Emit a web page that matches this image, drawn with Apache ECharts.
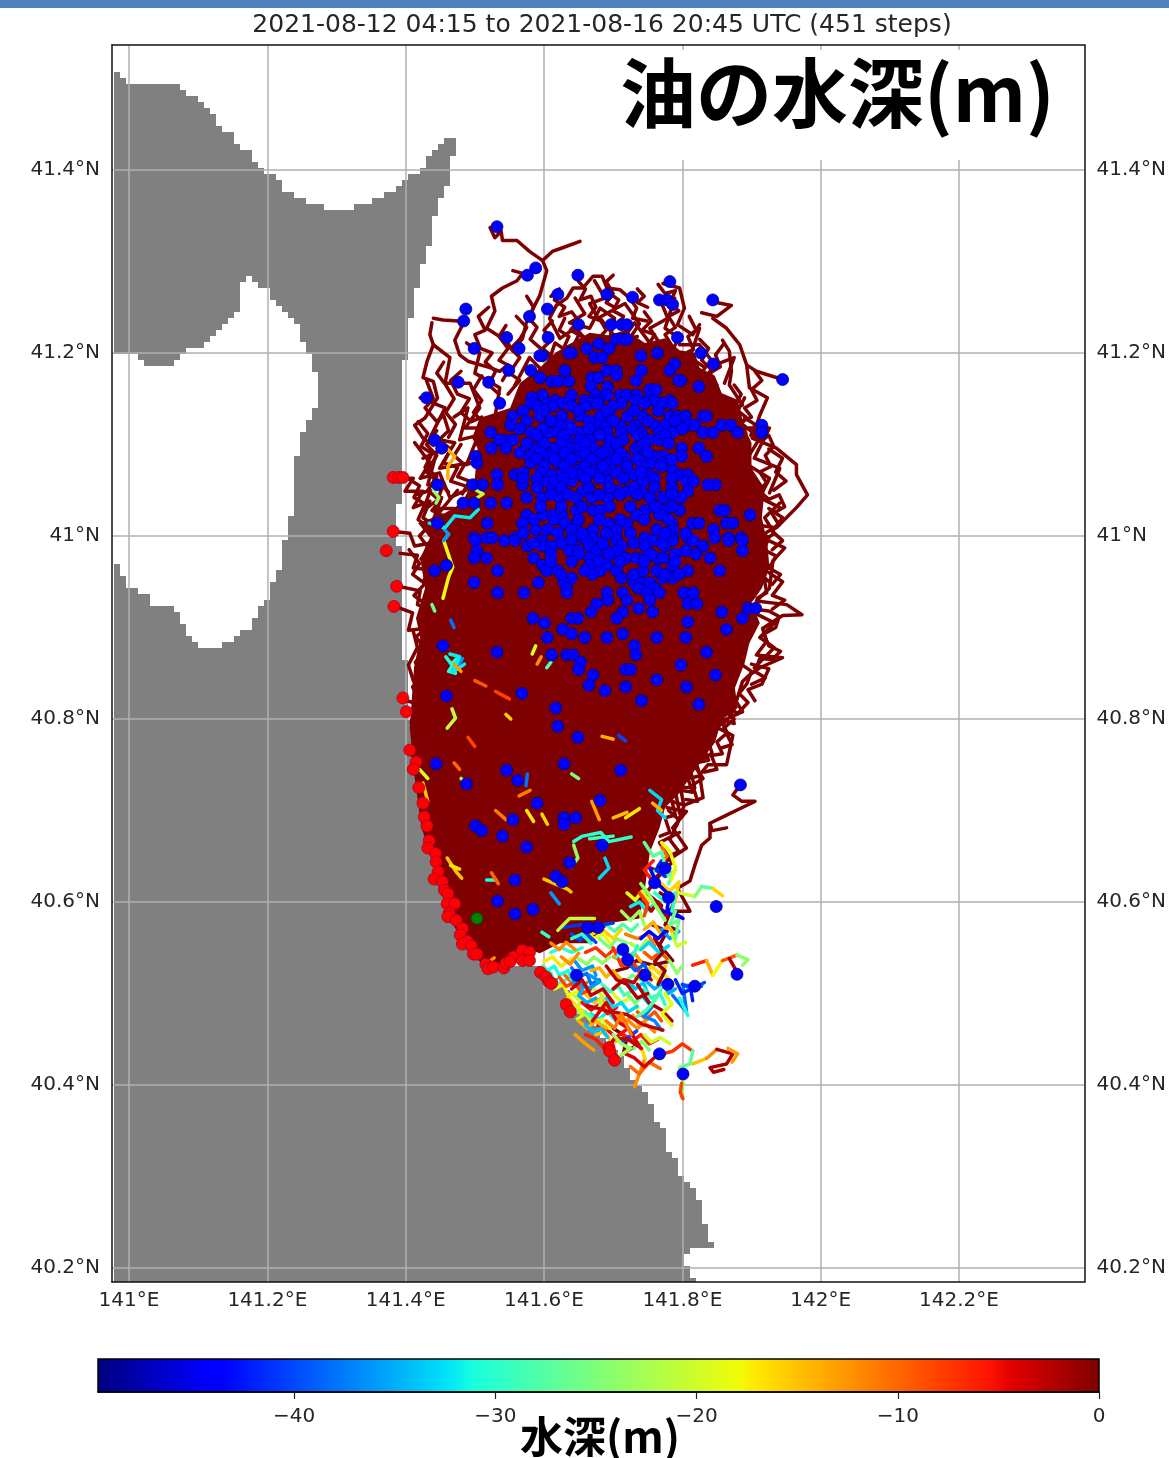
<!DOCTYPE html>
<html><head><meta charset="utf-8">
<style>html,body{margin:0;padding:0;background:#fff}#c{width:1169px;height:1458px;filter:blur(0.5px)}</style>
<script src="https://cdn.jsdelivr.net/npm/echarts@6/dist/echarts.min.js"></script>
</head><body><div id="c"></div>
<script>
const chartTitle='2021-08-12 04:15 to 2021-08-16 20:45 UTC (451 steps)';
const panelTitle='油の水深(m)';
const colorbarTitle='水深(m)';
const lonTicks=[141,141.2,141.4,141.6,141.8,142,142.2];
const lonLabels=['141°E','141.2°E','141.4°E','141.6°E','141.8°E','142°E','142.2°E'];
const latTicks=[40.2,40.4,40.6,40.8,41,41.2,41.4];
const latLabels=['40.2°N','40.4°N','40.6°N','40.8°N','41°N','41.2°N','41.4°N'];
const depthTicks=[-40,-30,-20,-10,0];
const depthLabels=['−40','−30','−20','−10','0'];
const depthMin=-49.75;
const jetStops=[[0,'#00007f'],[0.11,'#0000ff'],[0.125,'#0000ff'],[0.35,'#00e4f8'],[0.375,'#19ffde'],[0.5,'#80ff77'],[0.64,'#f1fc06'],[0.66,'#ffe500'],[0.89,'#ff1300'],[0.91,'#e40000'],[1,'#7f0000']];

// land outline [lon,lat]
const land=[[140.975,41.504],[140.991,41.501],[140.999,41.493],[141.069,41.491],[141.081,41.481],[141.110,41.471],[141.121,41.460],[141.129,41.448],[141.150,41.435],[141.168,41.419],[141.185,41.400],[141.201,41.393],[141.225,41.377],[141.254,41.366],[141.286,41.358],[141.308,41.356],[141.341,41.366],[141.374,41.378],[141.399,41.388],[141.421,41.404],[141.435,41.421],[141.457,41.433],[141.470,41.434],[141.475,41.416],[141.467,41.413],[141.467,41.391],[141.454,41.373],[141.442,41.344],[141.435,41.318],[141.423,41.290],[141.410,41.257],[141.406,41.220],[141.402,41.200],[141.392,41.162],[141.396,41.137],[141.395,41.099],[141.399,41.082],[141.389,41.023],[141.392,40.946],[141.396,40.881],[141.399,40.867],[141.403,40.823],[141.410,40.790],[141.421,40.725],[141.435,40.670],[141.449,40.626],[141.471,40.577],[141.500,40.544],[141.522,40.526],[141.565,40.530],[141.594,40.533],[141.627,40.506],[141.637,40.492],[141.662,40.470],[141.692,40.448],[141.728,40.404],[141.760,40.375],[141.757,40.362],[141.775,40.350],[141.779,40.326],[141.793,40.320],[141.799,40.298],[141.821,40.277],[141.835,40.244],[141.842,40.220],[141.818,40.224],[141.806,40.208],[141.808,40.192],[141.821,40.1847],[140.975,40.1847],[140.975,40.978],[140.999,40.946],[141.023,40.936],[141.038,40.921],[141.064,40.920],[141.085,40.892],[141.110,40.875],[141.129,40.878],[141.150,40.889],[141.178,40.903],[141.197,40.932],[141.215,40.965],[141.228,41.005],[141.240,41.042],[141.244,41.110],[141.254,41.121],[141.276,41.148],[141.273,41.173],[141.259,41.202],[141.240,41.235],[141.201,41.268],[141.178,41.282],[141.163,41.279],[141.160,41.244],[141.120,41.213],[141.084,41.202],[141.064,41.184],[141.027,41.184],[141.013,41.197],[140.975,41.198]];

// outline of the saturated mass of overlapping tracks [lon,lat]
const denseMass=[[141.640,41.211],[141.666,41.222],[141.695,41.219],[141.717,41.225],[141.746,41.211],[141.775,41.216],[141.796,41.203],[141.818,41.200],[141.825,41.184],[141.847,41.175],[141.857,41.156],[141.880,41.149],[141.890,41.118],[141.900,41.102],[141.900,41.074],[141.919,41.052],[141.915,41.020],[141.923,40.992],[141.926,40.965],[141.915,40.943],[141.900,40.927],[141.912,40.905],[141.897,40.883],[141.890,40.861],[141.876,40.834],[141.880,40.812],[141.857,40.799],[141.847,40.774],[141.825,40.752],[141.811,40.736],[141.796,40.719],[141.775,40.703],[141.767,40.681],[141.753,40.654],[141.746,40.615],[141.738,40.582],[141.695,40.577],[141.666,40.555],[141.623,40.555],[141.594,40.544],[141.572,40.550],[141.551,40.533],[141.522,40.526],[141.493,40.544],[141.471,40.572],[141.449,40.615],[141.438,40.648],[141.423,40.681],[141.413,40.736],[141.406,40.790],[141.409,40.823],[141.412,40.856],[141.421,40.889],[141.415,40.910],[141.428,40.943],[141.421,40.976],[141.435,40.998],[141.418,41.014],[141.457,41.025],[141.481,41.036],[141.500,41.063],[141.504,41.096],[141.496,41.107],[141.507,41.129],[141.551,41.140],[141.565,41.167],[141.594,41.184],[141.616,41.200]];

// shallow (surface) tracks, flat lon,lat lists
const surfaceTracks=[
[141.522,41.337,141.529,41.326,141.538,41.333,141.540,41.323,141.561,41.323,141.579,41.311,141.598,41.301,141.612,41.311,141.627,41.315,141.652,41.322],
[141.555,41.290,141.569,41.287,141.561,41.279,141.540,41.271,141.524,41.262,141.529,41.246,141.517,41.227,141.546,41.213,141.555,41.202,141.569,41.216,141.575,41.235,141.594,41.263,141.604,41.290,141.598,41.301],
[141.440,41.238,141.454,41.236,141.476,41.235,141.481,41.229,141.471,41.214,141.478,41.198,141.490,41.191,141.522,41.184,141.536,41.180,141.548,41.187],
[141.438,41.233,141.435,41.220,141.440,41.209,141.431,41.191,141.425,41.173,141.440,41.169,141.446,41.151,141.428,41.129,141.413,41.121,141.425,41.107,141.440,41.099],
[141.440,41.209,141.464,41.195,141.457,41.167,141.493,41.167,141.507,41.140,141.486,41.118,141.522,41.118],
[141.488,41.211,141.507,41.200,141.500,41.178,141.536,41.162,141.529,41.129,141.551,41.118],
[141.421,41.151,141.457,41.140,141.435,41.107,141.471,41.102,141.449,41.074,141.493,41.080],
[141.413,41.102,141.435,41.080,141.421,41.063,141.449,41.069,141.464,41.042,141.493,41.052],
[141.425,41.085,141.445,41.092,141.432,41.056,141.455,41.058,141.442,41.030,141.470,41.030],
[141.415,41.045,141.436,41.050,141.425,41.028,141.452,41.042,141.440,41.018,141.475,41.050],
[141.470,41.130,141.490,41.140,141.478,41.105,141.505,41.110,141.488,41.078,141.515,41.085],
[141.618,41.252,141.633,41.260,141.642,41.271,141.656,41.271,141.671,41.284,141.684,41.284,141.691,41.271,141.710,41.269,141.724,41.260,141.734,41.249,141.728,41.238,141.749,41.235],
[141.618,41.252,141.608,41.238,141.623,41.216,141.645,41.227,141.666,41.211],
[141.645,41.260,141.659,41.243,141.637,41.233,141.666,41.227,141.681,41.249,141.702,41.238,141.695,41.216],
[141.673,41.279,141.688,41.260,141.666,41.254,141.678,41.238,141.717,41.254,141.738,41.232,141.724,41.216],
[141.772,41.276,141.796,41.271,141.803,41.249,141.793,41.231,141.815,41.220,141.825,41.231],
[141.767,41.260,141.779,41.238,141.753,41.227,141.767,41.211],
[141.789,41.260,141.775,41.227,141.796,41.216,141.782,41.200],
[141.828,41.244,141.850,41.240,141.871,41.252,141.844,41.256],
[141.844,41.238,141.864,41.227,141.883,41.209,141.893,41.187,141.907,41.180,141.945,41.171],
[141.893,41.187,141.897,41.162,141.923,41.151,141.912,41.132,141.901,41.107,141.936,41.096,141.965,41.078,141.965,41.067,141.981,41.045,141.965,41.031,141.936,41.009,141.907,41.012],
[141.858,41.214,141.868,41.202,141.871,41.180,141.868,41.165,141.887,41.143],
[141.825,41.227,141.811,41.195,141.833,41.184,141.818,41.167,141.854,41.156],
[141.890,41.151,141.875,41.129,141.912,41.107,141.890,41.080,141.926,41.063,141.912,41.042,141.941,41.031],
[141.916,40.998,141.948,40.987,141.931,40.973,141.926,40.943,141.907,40.929,141.951,40.925,141.973,40.914,141.945,40.913,141.916,40.899,141.922,40.885,141.907,40.870,141.945,40.867,141.912,40.856,141.897,40.848,141.887,40.841,141.878,40.819,141.887,40.808],
[141.912,40.992,141.933,41.003,141.919,41.020,141.941,41.036],
[141.904,40.916,141.933,40.905,141.912,40.889,141.933,40.878,141.904,40.856],
[141.887,40.808,141.844,40.793,141.873,40.782,141.864,40.750,141.837,40.750,141.825,40.739,141.830,40.714,141.803,40.706,141.792,40.684],
[141.861,40.796,141.833,40.785,141.843,40.763,141.811,40.746,141.818,40.725,141.789,40.725,141.796,40.697],
[141.884,40.728,141.873,40.717,141.886,40.710,141.905,40.710,141.886,40.703,141.864,40.695,141.840,40.686,141.843,40.678,141.864,40.681],
[141.840,40.686,141.840,40.670,141.828,40.662,141.818,40.640,141.811,40.623,141.793,40.615,141.811,40.590,141.792,40.590,141.767,40.590],
[141.778,40.645,141.806,40.659,141.786,40.681,141.806,40.699,141.778,40.703],
[141.796,40.676,141.767,40.665,141.785,40.643,141.760,40.626],
[141.390,41.063,141.411,41.063,141.399,41.049,141.425,41.049,141.411,41.031,141.435,41.038,141.425,41.020,141.446,41.009],
[141.383,41.005,141.406,41.003,141.413,40.989,141.435,40.992],
[141.392,40.981,141.417,40.979,141.411,40.965,141.435,40.963],
[141.389,40.945,141.421,40.940,141.417,40.925,141.440,40.918],
[141.385,40.923,141.410,40.916,141.404,40.897,141.428,40.899],
[141.411,40.896,141.417,40.878,141.404,40.859,141.411,40.842,141.425,40.820],
[141.396,40.821,141.416,40.817,141.408,40.796],
[141.406,40.763,141.428,40.746,141.418,40.725,141.435,40.714],
[141.558,41.165,141.579,41.195,141.601,41.178,141.616,41.211,141.637,41.200,141.652,41.222],
[141.681,41.238,141.710,41.211,141.731,41.233,141.753,41.211],
[141.796,41.209,141.825,41.209,141.847,41.187,141.875,41.195,141.861,41.167],
[141.890,41.118,141.926,41.118,141.904,41.085,141.941,41.074,141.926,41.047],
[141.705,40.525,141.720,40.528,141.734,40.536,141.757,40.531,141.786,40.536,141.767,40.553,141.778,40.568,141.757,40.575],
[141.768,40.610,141.788,40.600,141.775,40.575,141.790,40.570],
[141.745,40.640,141.770,40.632,141.748,40.610,141.770,40.596],
[141.700,40.462,141.720,40.452,141.715,40.435,141.738,40.445],
[141.890,41.129,141.905,41.122,141.899,41.110,141.915,41.104,141.925,41.110,141.932,41.098,141.920,41.088,141.928,41.076,141.912,41.070,141.922,41.058,141.910,41.050,141.925,41.040,141.940,41.045,141.948,41.032,141.930,41.024,141.940,41.012,141.922,41.004],
[141.905,41.010,141.925,40.998,141.918,40.985,141.936,40.978,141.925,40.965,141.942,40.958,141.930,40.947,141.918,40.955,141.922,40.938,141.908,40.932],
[141.905,40.920,141.925,40.918,141.940,40.912,141.935,40.900,141.918,40.893,141.925,40.880,141.942,40.874,141.930,40.865,141.912,40.866,141.905,40.852,141.920,40.845,141.900,40.838],
[141.885,40.860,141.900,40.852,141.893,40.838,141.882,40.828,141.895,40.818,141.880,40.806,141.870,40.812,141.875,40.795,141.855,40.800,141.865,40.785,141.850,40.775,141.858,40.762,141.842,40.760,141.850,40.745,141.832,40.742],
[141.845,40.780,141.830,40.770,141.838,40.755,141.820,40.752,141.826,40.738,141.808,40.735,141.815,40.720,141.798,40.722,141.802,40.706,141.785,40.710,141.790,40.695,141.775,40.692,141.782,40.676,141.768,40.672],
[141.905,41.180,141.915,41.170,141.900,41.160,141.908,41.148,141.890,41.140,141.900,41.130,141.885,41.125,141.892,41.112,141.875,41.108],
[141.860,41.210,141.848,41.198,141.855,41.185,141.840,41.178,141.850,41.165,141.835,41.160,141.845,41.146,141.830,41.150],
[141.810,41.240,141.820,41.225,141.808,41.218,141.816,41.204,141.800,41.198,141.812,41.186,141.795,41.180],
[141.610,41.262,141.622,41.270,141.615,41.258,141.630,41.250,141.622,41.240,141.640,41.245,141.650,41.235,141.638,41.225,141.655,41.218],
[141.650,41.278,141.660,41.270,141.652,41.258,141.668,41.262,141.675,41.250,141.665,41.240,141.682,41.235,141.690,41.225,141.678,41.215],
[141.695,41.265,141.708,41.258,141.700,41.246,141.715,41.240,141.706,41.230,141.722,41.228,141.715,41.215,141.735,41.218],
[141.765,41.275,141.775,41.265,141.790,41.268,141.782,41.254,141.795,41.246,141.780,41.240,141.790,41.228,141.775,41.220,141.785,41.208],
[141.745,41.245,141.755,41.235,141.742,41.225,141.760,41.220,141.750,41.208,141.768,41.205],
[141.735,41.270,141.745,41.262,141.735,41.255,141.750,41.250],
[141.612,41.235,141.600,41.225,141.612,41.215,141.598,41.205,141.612,41.196],
[141.575,41.262,141.585,41.250,141.578,41.238,141.590,41.228,141.580,41.215,141.595,41.205],
[141.520,41.250,141.505,41.240,141.515,41.225,141.500,41.220,141.508,41.205,141.525,41.200,141.515,41.190,141.530,41.180,141.520,41.165,141.535,41.155],
[141.560,41.240,141.575,41.228,141.565,41.215,141.552,41.205,141.565,41.195,141.550,41.178,141.565,41.170,141.548,41.155],
[141.480,41.180,141.465,41.170,141.475,41.155,141.492,41.150,141.480,41.135,141.495,41.125,141.510,41.130,141.505,41.112,141.525,41.105],
[141.430,41.170,141.440,41.150,141.428,41.140,141.445,41.125,141.455,41.132,141.462,41.115,141.448,41.105,141.465,41.095,141.455,41.080,141.475,41.075,141.465,41.060,141.485,41.055],
[141.418,41.125,141.432,41.112,141.422,41.098,141.438,41.090,141.428,41.075,141.445,41.065,141.432,41.050,141.450,41.038,141.438,41.028,141.460,41.020],
[141.405,41.062,141.420,41.055,141.412,41.042,141.428,41.035,141.418,41.018,141.432,41.010,141.420,41.000,141.435,40.985,141.422,40.975,141.438,40.965,141.425,40.950,141.440,40.940],
[141.405,40.985,141.420,40.970,141.410,40.958,141.428,40.948,141.412,40.935,141.430,40.925,141.418,40.910,141.432,40.900,141.415,40.890,141.428,40.875,141.414,40.862,141.425,40.848,141.410,40.835,141.420,40.820,141.408,40.808,141.418,40.790],
[141.510,41.175,141.498,41.160,141.510,41.148,141.498,41.135,141.515,41.122,141.530,41.130,141.525,41.112,141.542,41.110],
[141.455,41.190,141.445,41.178,141.458,41.165,141.470,41.150,141.458,41.135,141.472,41.122,141.462,41.108],
[141.480,41.100,141.470,41.088,141.485,41.078,141.475,41.065,141.492,41.060,141.482,41.046],
[141.445,41.115,141.430,41.100,141.445,41.088,141.430,41.070,141.448,41.058,141.462,41.048],
[141.545,41.230,141.535,41.218,141.548,41.205,141.535,41.192,141.552,41.185,141.540,41.170],
[141.630,41.238,141.622,41.225,141.636,41.218,141.628,41.205,141.645,41.210],
[141.700,41.285,141.690,41.278,141.700,41.265,141.690,41.255,141.702,41.250],
[141.825,41.215,141.838,41.205,141.828,41.192,141.842,41.182,141.830,41.170,141.845,41.168],
[141.875,41.165,141.885,41.155,141.875,41.140,141.892,41.130,141.880,41.115,141.895,41.105],
[141.925,41.095,141.945,41.085,141.935,41.070,141.950,41.060,141.932,41.050],
[141.925,41.030,141.945,41.020,141.930,41.005,141.945,40.995,141.930,40.985],
[141.925,40.960,141.945,40.950,141.930,40.935,141.948,40.930,141.930,40.920],
[141.900,40.860,141.925,40.855,141.915,40.838,141.895,40.832,141.905,40.820],
[141.860,40.810,141.875,40.800,141.860,40.790,141.872,40.772,141.855,40.768],
[141.815,40.752,141.830,40.735,141.815,40.728,141.822,40.710,141.805,40.712],
[141.780,40.700,141.795,40.690,141.782,40.668,141.795,40.655,141.780,40.650,141.770,40.640]
];

// coloured tracks: first value is depth (m), then flat lon,lat list
const depthTracks=[
[-17,141.600,40.535,141.612,40.540,141.625,40.530,141.640,40.538],
[-30,141.610,40.545,141.625,40.550,141.640,40.545,141.655,40.550],
[-36,141.645,40.535,141.655,40.525,141.670,40.530,141.675,40.520],
[-7,141.660,40.545,141.675,40.550,141.690,40.540,141.700,40.548],
[-25,141.680,40.560,141.695,40.550,141.705,40.560,141.720,40.555],
[-13,141.700,40.540,141.715,40.535,141.730,40.545,141.740,40.535],
[-28,141.598,40.530,141.610,40.522,141.618,40.510,141.632,40.515],
[-10,141.628,40.522,141.640,40.512,141.652,40.505,141.662,40.512],
[-22,141.640,40.500,141.652,40.492,141.648,40.480,141.662,40.476],
[-15,141.660,40.500,141.672,40.490,141.684,40.496,141.690,40.484],
[-32,141.668,40.478,141.680,40.472,141.692,40.480,141.704,40.470],
[-5,141.678,40.465,141.692,40.460,141.704,40.452,141.718,40.460],
[-19,141.700,40.500,141.712,40.490,141.725,40.496,141.736,40.484],
[-34,141.720,40.515,141.732,40.505,141.744,40.512,141.750,40.500],
[-26,141.705,40.520,141.716,40.512,141.728,40.520,141.740,40.515],
[-9,141.735,40.480,141.748,40.472,141.760,40.480,141.770,40.470],
[-30,141.745,40.505,141.755,40.495,141.768,40.500,141.775,40.488],
[-17,141.752,40.525,141.764,40.515,141.775,40.520,141.788,40.510],
[-24,141.770,40.545,141.782,40.535,141.792,40.522,141.800,40.530],
[-31,141.605,40.525,141.615,40.530,141.622,40.520,141.635,40.525,141.640,40.515],
[-18,141.615,40.505,141.628,40.510,141.635,40.498,141.648,40.502,141.652,40.492],
[-8,141.622,40.518,141.632,40.508,141.645,40.512,141.655,40.500,141.668,40.505],
[-38,141.640,40.528,141.650,40.518,141.662,40.522,141.668,40.510,141.680,40.515],
[-24,141.650,40.538,141.662,40.532,141.672,40.540,141.685,40.533,141.695,40.540],
[-14,141.668,40.525,141.680,40.528,141.690,40.518,141.700,40.525,141.712,40.515],
[-29,141.684,40.510,141.695,40.502,141.708,40.508,141.716,40.498,141.728,40.503],
[-5,141.655,40.490,141.668,40.482,141.680,40.488,141.692,40.478,141.705,40.485],
[-20,141.648,40.472,141.660,40.478,141.670,40.468,141.684,40.472,141.695,40.462],
[-33,141.690,40.495,141.700,40.485,141.712,40.490,141.722,40.480,141.735,40.486],
[-12,141.705,40.475,141.716,40.468,141.728,40.476,141.738,40.466,141.750,40.472],
[-26,141.720,40.500,141.732,40.490,141.742,40.497,141.755,40.488,141.762,40.495],
[-16,141.735,40.530,141.745,40.522,141.756,40.530,141.766,40.522,141.776,40.530],
[-35,141.750,40.512,141.760,40.505,141.772,40.512,141.780,40.500,141.790,40.505],
[-9,141.745,40.545,141.756,40.538,141.768,40.545,141.778,40.538],
[-22,141.725,40.555,141.738,40.548,141.748,40.558,141.760,40.550],
[-3,141.700,40.505,141.715,40.515,141.730,40.512,141.742,40.525,141.755,40.515],
[-28,141.690,40.575,141.702,40.568,141.714,40.576,141.726,40.568,141.735,40.575],
[-18,141.660,40.570,141.672,40.560,141.684,40.566,141.695,40.556],
[-40,141.640,40.565,141.652,40.558,141.662,40.565,141.675,40.556],
[-12,141.610,40.555,141.622,40.548,141.632,40.556,141.645,40.548],
[-32,141.725,40.595,141.738,40.600,141.748,40.590,141.760,40.598,141.770,40.588],
[-14,141.745,40.570,141.758,40.578,141.768,40.566,141.780,40.574,141.790,40.562],
[-19,141.720,40.610,141.732,40.602,141.742,40.612,141.752,40.600],
[-2,141.745,40.600,141.755,40.590,141.765,40.600,141.775,40.585,141.790,40.590],
[-27,141.755,40.630,141.768,40.640,141.778,40.628,141.790,40.635,141.780,40.620],
[-16,141.770,40.620,141.782,40.612,141.795,40.622,141.790,40.600],
[-10,141.765,40.640,141.778,40.650,141.770,40.660],
[-42,141.770,40.645,141.762,40.635,141.775,40.628],
[-35,141.660,40.510,141.650,40.498,141.662,40.490,141.675,40.495],
[-21,141.672,40.505,141.684,40.498,141.680,40.485,141.692,40.488],
[-6,141.715,40.455,141.728,40.448,141.740,40.455,141.752,40.445,141.765,40.450],
[-25,141.730,40.440,141.742,40.448,141.752,40.438],
[-37,141.745,40.495,141.756,40.485,141.745,40.475,141.760,40.470,141.770,40.460],
[-15,141.675,40.455,141.688,40.458,141.698,40.446,141.712,40.450],
[-38,141.786,40.498,141.806,40.480,141.801,40.509,141.828,40.508],
[-31,141.796,40.495,141.808,40.476],
[-42,141.790,40.515,141.800,40.500,141.812,40.505,141.815,40.492],
[-20,141.745,40.455,141.755,40.447,141.768,40.452,141.782,40.445],
[-12,141.722,40.470,141.735,40.462,141.745,40.468,141.760,40.458],
[-3,141.662,40.487,141.691,40.481,141.720,40.477,141.743,40.466,141.772,40.460],
[-2,141.735,40.510,141.752,40.490,141.770,40.482,141.785,40.470],
[-6,141.660,40.455,141.675,40.450,141.690,40.438,141.705,40.432],
[-14,141.650,40.470,141.662,40.462,141.675,40.470,141.690,40.462],
[-28,141.645,40.485,141.660,40.480,141.672,40.472],
[-36,141.666,40.520,141.681,40.513,141.666,40.506,141.642,40.513],
[-40,141.724,40.451,141.714,40.448,141.734,40.459],
[-41,141.627,40.572,141.652,40.575,141.676,40.574,141.700,40.577],
[-21,141.620,40.569,141.637,40.582,141.642,40.582,141.673,40.582],
[-16,141.670,40.565,141.685,40.570,141.700,40.560,141.712,40.570],
[-30,141.640,40.560,141.655,40.565,141.668,40.555],
[-23,141.712,40.590,141.725,40.580,141.738,40.590,141.745,40.575],
[-11,141.718,40.565,141.735,40.560,141.750,40.565,141.760,40.552],
[-33,141.740,40.548,141.752,40.556,141.766,40.545,141.780,40.552],
[-45,141.753,40.637,141.763,40.621,141.782,40.607,141.778,40.593,141.801,40.582,141.772,40.590],
[-27,141.745,40.665,141.758,40.650,141.770,40.655,141.775,40.640],
[-18,141.770,40.665,141.782,40.655,141.790,40.638,141.785,40.625],
[-30,141.760,40.610,141.775,40.600,141.790,40.610,141.785,40.590],
[-24,141.740,40.620,141.752,40.608,141.762,40.595,141.775,40.580],
[-8,141.738,40.610,141.750,40.598,141.745,40.585],
[-36,141.770,40.570,141.782,40.560,141.795,40.568],
[-20,141.785,40.565,141.792,40.552,141.805,40.556],
[-20,141.796,40.610,141.818,40.606],
[-25,141.818,40.606,141.828,40.617],
[-27,141.828,40.617,141.844,40.615],
[-16,141.844,40.615,141.858,40.607],
[-6,141.815,40.531,141.835,40.536],
[-14,141.835,40.536,141.844,40.520],
[-18,141.844,40.520,141.858,40.536],
[-9,141.858,40.536,141.879,40.542],
[-24,141.879,40.542,141.895,40.537,141.887,40.531],
[-2,141.868,40.538,141.878,40.525],
[-40,141.800,40.510,141.815,40.505,141.832,40.512],
[-12,141.731,40.398,141.746,40.429],
[-16,141.746,40.429,141.741,40.440],
[-3,141.741,40.440,141.721,40.450,141.702,40.451,141.692,40.440],
[-7,141.772,40.434,141.786,40.437,141.800,40.445,141.815,40.437],
[-27,141.815,40.437,141.811,40.423,141.796,40.419],
[-24,141.796,40.419,141.801,40.402,141.799,40.386],
[-8,141.799,40.402,141.797,40.392,141.801,40.385],
[-15,141.815,40.423,141.835,40.429],
[-12,141.835,40.429,141.850,40.439],
[-2,141.850,40.439,141.873,40.434,141.864,40.423,141.840,40.419,141.845,40.414,141.860,40.417],
[-13,141.866,40.440,141.880,40.434,141.872,40.425],
[-10,141.725,40.420,141.738,40.412,141.752,40.425,141.768,40.418],
[-4,141.715,40.435,141.730,40.430,141.745,40.420,141.760,40.430],
[-3,141.640,40.505,141.655,40.515,141.668,40.498,141.685,40.505,141.700,40.490],
[-2,141.690,40.530,141.705,40.515,141.720,40.510,141.735,40.495,141.750,40.500],
[-4,141.670,40.470,141.690,40.490,141.705,40.470,141.722,40.462,141.740,40.440],
[-7,141.700,40.550,141.712,40.530,141.728,40.535,141.740,40.520],
[-1,141.760,40.560,141.772,40.545,141.760,40.535,141.775,40.525,141.765,40.510],
[-11,141.690,40.470,141.702,40.462,141.712,40.478,141.726,40.455],
[-17,141.625,40.488,141.636,40.496,141.645,40.488,141.656,40.480],
[-23,141.700,40.455,141.712,40.445,141.725,40.440,141.710,40.432],
[-34,141.660,40.465,141.672,40.458,141.682,40.462,141.692,40.452],
[-13,141.645,40.455,141.660,40.445,141.672,40.438],
[-28,141.735,40.475,141.748,40.482,141.760,40.492,141.770,40.505],
[-39,141.720,40.535,141.732,40.525,141.745,40.532,141.752,40.520],
[-19,141.775,40.500,141.785,40.488,141.770,40.478,141.785,40.465],
[-31,141.705,40.540,141.715,40.548,141.728,40.540,141.735,40.552],
[-44,141.740,40.560,141.752,40.568,141.765,40.560,141.775,40.568],
[-6,141.755,40.625,141.745,40.635,141.758,40.645],
[-26,141.790,40.590,141.782,40.575,141.795,40.580,141.790,40.560],
[-12,141.625,40.540,141.638,40.532,141.650,40.544],
[-18,141.454,40.932,141.462,40.955,141.468,40.966,141.455,40.995,141.462,41.002],
[-36,141.455,40.995,141.462,41.002,141.455,41.008],
[-32,141.434,41.014,141.457,41.009,141.471,41.022,141.493,41.020,141.505,41.029],
[-14,141.459,41.096,141.471,41.087,141.461,41.076,141.461,41.063],
[-24,141.440,41.050,141.448,41.042,141.444,41.036],
[-21,141.498,41.052,141.512,41.046,141.500,41.040],
[-38,141.465,40.908,141.470,40.900],
[-26,141.438,40.925,141.442,40.918],
[-31,141.458,40.868,141.466,40.860,141.474,40.866,141.462,40.852,141.472,40.850],
[-36,141.476,40.858,141.482,40.866],
[-32,141.464,40.871,141.478,40.868,141.468,40.851,141.485,40.860],
[-21,141.467,40.811,141.472,40.801,141.460,40.790],
[-19,141.583,40.871,141.588,40.880],
[-12,141.590,40.860,141.596,40.868],
[-28,141.604,40.856,141.610,40.862],
[-38,141.574,40.727,141.576,40.740],
[-11,141.564,40.716,141.580,40.722],
[-14,141.684,40.781,141.700,40.778],
[-40,141.708,40.782,141.718,40.776],
[-13,141.669,40.710,141.680,40.690],
[-33,141.753,40.722,141.770,40.712,141.764,40.700,141.775,40.692],
[-14,141.757,40.708,141.770,40.700],
[-15,141.700,40.692,141.720,40.698],
[-17,141.718,40.692,141.738,40.702],
[-29,141.666,40.669,141.700,40.672],
[-16,141.597,40.696,141.605,40.685],
[-30,141.643,40.666,141.656,40.672,141.682,40.676,141.694,40.666,141.726,40.671],
[-24,141.643,40.662,141.649,40.648,141.639,40.638],
[-33,141.688,40.648,141.694,40.637,141.680,40.626],
[-15,141.460,40.648,141.474,40.632,141.481,40.626],
[-17,141.465,40.640,141.478,40.636],
[-31,141.517,40.624,141.531,40.624],
[-10,141.524,40.632,141.534,40.620],
[-12,141.517,40.533,141.528,40.539],
[-30,141.597,40.567,141.607,40.562],
[-15,141.600,40.625,141.634,40.614,141.639,40.611],
[-36,141.610,40.610,141.622,40.598],
[-13,141.470,40.860,141.480,40.852],
[-9,141.500,40.842,141.516,40.836],
[-8,141.530,40.830,141.550,40.822],
[-16,141.545,40.805,141.552,40.800],
[-10,141.470,40.752,141.478,40.745],
[-22,141.480,40.735,141.488,40.728],
[-11,141.530,40.700,141.545,40.690],
[-17,141.575,40.700,141.585,40.688],
[-25,141.640,40.740,141.650,40.735],
[-8,141.490,40.780,141.500,40.770],
[-20,141.420,40.745,141.432,40.735],
[-15,141.425,40.730,141.432,40.710]
];

// end positions: lat followed by the lons at that lat
const sunkRows=[
[41.338,141.532],[41.293,141.588],[41.285,141.576,141.649],[41.278,141.782],[41.264,141.620,141.691],[41.261,141.728],[41.258,141.767,141.778,141.844],[41.253,141.786],
[41.248,141.487,141.605],[41.235,141.484],[41.240,141.579],[41.231,141.650,141.697,141.712,141.720],
[41.217,141.546,141.606,141.793],[41.215,141.705,141.714,141.720],[41.210,141.679],[41.205,141.694,141.662,141.499,141.564],[41.200,141.640,141.636,141.764,141.827],
[41.197,141.740,141.598,141.594],[41.195,141.673,141.684],[41.188,141.789,141.845],[41.181,141.549,141.581,141.630,141.691,141.704,141.782,141.741],[41.176,141.705],
[41.171,141.945],[41.168,141.476,141.520],[41.173,141.594,141.669,141.678],[41.169,141.611,141.620,141.636],[41.170,141.733,141.798,141.795],[41.160,141.753,141.762],[41.163,141.668,141.692,141.824],
[41.154,141.598,141.640,141.676,141.691,141.710,141.720,141.734],[41.148,141.616,141.636,141.659,141.669,141.678,141.733,141.749,141.760,141.782],[41.151,141.430,141.584,141.582],
[41.145,141.536,141.582,141.605,141.626,141.671,141.678,141.712,141.746,141.772,141.785],[41.131,141.555,141.594,141.626,141.652,141.681,141.695,141.721,141.743,141.782,141.793,141.805,141.830,141.835],
[41.121,141.552,141.623,141.637,141.676,141.691,141.710,141.733,141.760,141.775,141.808,141.818,141.857,141.870,141.915],[41.113,141.523,141.582,141.601,141.608,141.620,141.652,141.676,141.691,141.712,141.741,141.767,141.786,141.880,141.915,141.830,141.844],
[41.105,141.543,141.555,141.536,141.442,141.634,141.652,141.666,141.695,141.714,141.753,141.767],[41.096,141.452,141.524,141.545,141.587,141.611,141.598,141.618,141.640,141.652,141.671,141.691,141.733,141.743,141.799,141.824],
[41.087,141.501,141.579,141.608,141.626,141.637,141.652,141.662,141.678,141.700,141.717,141.760,141.772,141.799,141.835],[41.080,141.503,141.581,141.620,141.695,141.717,141.749,141.757,141.770],
[41.072,141.649,141.676,141.691,141.700,141.786],[41.067,141.532,141.558,141.568,141.611,141.626,141.652,141.678,141.730,141.753,141.796,141.808],[41.060,141.604,141.616,141.640,141.691,141.743,141.806,141.816],
[41.056,141.446,141.497,141.511,141.533,141.569,141.848,141.837],[41.049,141.611,141.656,141.707,141.720,141.741,141.785,141.808],[41.042,141.575,141.597,141.623,141.647,141.669,141.692,141.753,141.772,141.798],
[41.036,141.483,141.499,141.523,141.546],[41.028,141.647,141.671,141.681,141.746,141.772,141.796,141.854,141.861],[41.023,141.575,141.598,141.612,141.626,141.734,141.767,141.898],
[41.014,141.446,141.518,141.569,141.630,141.647,141.692,141.720,141.785,141.815,141.824,141.864,141.873],[41.007,141.588,141.605,141.640,141.671,141.705,141.763,141.786,141.845],
[40.998,141.499,141.517,141.525,141.558,141.640,141.656,141.671,141.705,141.746,141.786,141.808,141.847,141.867,141.885],[40.995,141.501,141.543,141.558,141.597,141.640,141.662,141.705,141.757,141.786,141.816,141.867,141.887],
[40.989,141.576,141.598,141.611,141.666,141.712,141.746,141.775,141.830],[40.984,141.503,141.637,141.649,141.676,141.691,141.705,141.805,141.887],[40.976,141.499,141.517,141.585,141.666,141.718,141.733,141.746,141.764,141.772,141.840],
[40.968,141.459,141.598,141.666,141.691,141.786],[40.962,141.442,141.533,141.604,141.620,141.659,141.681,141.705,141.743,141.763,141.808,141.854],[40.954,141.640,141.712,141.786,141.772],
[40.949,141.499,141.592,141.629,141.730,141.741,141.753],[40.943,141.633,141.736,141.760],[40.938,141.533,141.571,141.633,141.691,141.714,141.749,141.767,141.802,141.816],
[40.930,141.692,141.720,141.753],[40.926,141.676,141.808,141.821],[40.921,141.737,141.895,141.906],[40.917,141.668,141.714,141.757,141.857],[40.906,141.808],
[40.910,141.584,141.640,141.649,141.705,141.887],[40.905,141.601],[40.898,141.627,141.864],[40.893,141.640,141.714],[40.889,141.605,141.659,141.691,141.763,141.805],
[40.880,141.454,141.731],[40.873,141.532,141.835],[40.870,141.611,141.633,141.642,141.733],[40.862,141.653],[40.859,141.798],[40.854,141.650,141.718,141.725],[40.848,141.671,141.848],
[40.843,141.763],[40.837,141.665],[40.835,141.718,141.806],[40.831,141.688],[40.828,141.568],[40.825,141.459],[40.820,141.741],[40.816,141.824],[40.812,141.617],
[40.792,141.620],[40.780,141.649],[40.751,141.629,141.444],[40.744,141.711,141.546],[40.733,141.562],[40.729,141.488],[40.728,141.884],[40.711,141.681],[40.708,141.590],
[40.692,141.629,141.646],[40.685,141.629],[40.683,141.501],[40.678,141.510],[40.690,141.555],[40.672,141.540],[40.660,141.575],
[40.662,141.684],[40.643,141.637],[40.637,141.775],[40.621,141.760],[40.628,141.617],[40.622,141.626],[40.624,141.558],[40.601,141.533],[40.587,141.558],[40.592,141.584],[40.605,141.780],[40.595,141.849],
[40.572,141.663,141.678],[40.548,141.714],[40.537,141.721],[40.520,141.647,141.746],[40.510,141.779],[40.508,141.818],[40.521,141.879],[40.434,141.767],[40.412,141.801],
[41.142,141.590,141.612,141.640,141.700,141.660],[41.137,141.570,141.600,141.650,141.690,141.730,141.765],[41.126,141.575,141.610,141.665,141.700,141.750,141.790],[41.117,141.565,141.598,141.640,141.665,141.728,141.800],[41.110,141.590,141.628,141.680,141.735,141.775],[41.101,141.575,141.600,141.625,141.660,141.705,141.745,141.780],[41.091,141.565,141.595,141.630,141.660,141.685,141.710,141.750],[41.084,141.590,141.615,141.640,141.668,141.705,141.735,141.785],[41.076,141.600,141.630,141.660,141.685,141.720,141.742,141.770],[41.069,141.570,141.595,141.640,141.665,141.705,141.740],[41.063,141.570,141.590,141.628,141.660,141.680,141.715,141.760,141.785],[41.053,141.590,141.625,141.665,141.695,141.730,141.760,141.785],[41.045,141.610,141.635,141.680,141.710,141.735,141.785],[41.032,141.595,141.625,141.655,141.695,141.725,141.760,141.785],[41.018,141.585,141.615,141.650,141.680,141.710,141.745,141.780],[41.003,141.570,141.620,141.655,141.690,141.725,141.775,141.805],[40.992,141.585,141.625,141.685,141.730,141.770],[40.980,141.610,141.650,141.695,141.755,141.790,141.820],[40.972,141.610,141.640,141.680,141.710,141.745,141.790],[40.958,141.625,141.670,141.730,141.775,141.795]
];
// beached positions
const beachedRows=[
[41.064,141.382,141.390,141.396],[41.005,141.382],[40.984,141.372],[40.945,141.387],[40.923,141.383],[40.823,141.396],[40.808,141.401],[40.766,141.406],[40.753,141.415],[40.745,141.411],
[40.725,141.419],[40.708,141.425],[40.693,141.427],[40.683,141.431],[40.667,141.434],[40.659,141.432],[40.653,141.443],[40.644,141.444],[40.633,141.447],[40.625,141.441],[40.622,141.453],
[40.613,141.456],[40.609,141.461],[40.598,141.460,141.471],[40.588,141.463],[40.584,141.461],[40.580,141.473],[40.571,141.482],[40.564,141.479],[40.557,141.489],[40.554,141.482],[40.552,141.495],
[40.543,141.498,141.503],[40.532,141.516],[40.527,141.519],[40.529,141.527],[40.528,141.542],[40.533,141.545],[40.540,141.556],[40.535,141.551],[40.547,141.569],[40.545,141.579],[40.536,141.569,141.579],
[40.523,141.595],[40.518,141.603],[40.513,141.607],[40.511,141.611],[40.488,141.632],[40.480,141.638],[40.441,141.694],[40.437,141.695],[40.427,141.702]
];
const startPoint=[[141.503,40.582]];

function jetColor(depth){
  const t=Math.max(0,Math.min(1,(depth-depthMin)/(0-depthMin)));
  for(let i=1;i<jetStops.length;i++){
    if(t<=jetStops[i][0]){
      const a=jetStops[i-1],b=jetStops[i],f=(t-a[0])/(b[0]-a[0]);
      const ca=echarts.color.parse(a[1]),cb=echarts.color.parse(b[1]);
      return 'rgb('+[0,1,2].map(k=>Math.round(ca[k]+(cb[k]-ca[k])*f)).join(',')+')';
    }
  }
  return jetStops[jetStops.length-1][1];
}
const pairs=f=>{const o=[];for(let i=0;i+1<f.length;i+=2)o.push([f[i],f[i+1]]);return o;};
const rows=r=>{const o=[];r.forEach(x=>x.slice(1).forEach(l=>o.push([l,x[0]])));return o;};
// the land mask is a raster: outline drawn as a staircase on its cell grid
const rasterOutline=(pts,cell)=>{
  const out=[];const snap=v=>Math.round(v/cell)*cell;
  pts.forEach((p,i)=>{
    const q=pts[(i+1)%pts.length];
    const n=Math.max(1,Math.ceil(Math.max(Math.abs(q[0]-p[0]),Math.abs(q[1]-p[1]))/cell));
    let prev=[snap(p[0]),snap(p[1])];
    for(let k=1;k<=n;k++){
      const c=[snap(p[0]+(q[0]-p[0])*k/n),snap(p[1]+(q[1]-p[1])*k/n)];
      out.push([c[0],prev[1]],c);prev=c;
    }
  });
  return out;
};

const lonMin=140.9754,lonMax=142.3815,latMin=40.1847,latMax=41.5366;
const grid='#b0b0b0', labelFont='"DejaVu Sans"';
const polygonSeries=(name,pts,color,z)=>({type:'custom',name,xAxisIndex:0,yAxisIndex:0,z,silent:true,data:[0],
  renderItem:(p,api)=>({type:'polygon',shape:{points:pts.map(q=>api.coord(q))},style:{fill:color}})});
const landSeries=()=>({type:'custom',name:'land',xAxisIndex:0,yAxisIndex:0,z:1,silent:true,data:[0],clip:true,
  renderItem:(p,api)=>{
    const pix=land.map(q=>api.coord(q));
    return {type:'polygon',shape:{points:rasterOutline(pix,6)},style:{fill:'#808080'}};
  }});
const trackSeries=(name,data,z)=>({type:'lines',name,coordinateSystem:'cartesian2d',xAxisIndex:0,yAxisIndex:0,polyline:true,z,silent:true,data,
  lineStyle:{width:3.5,opacity:1,cap:'round',join:'round'}});
const dots=(name,data,color,border,z)=>({type:'scatter',name,xAxisIndex:0,yAxisIndex:0,z,silent:true,data,symbolSize:12,
  itemStyle:{color,borderColor:border,borderWidth:0.8,opacity:1}});
const tickFormatter=(ticks,labels)=>v=>{const i=ticks.findIndex(t=>Math.abs(t-v)<1e-6);return i<0?'':labels[i];};

const option={
  animation:false,
  backgroundColor:'#fff',
  title:{text:chartTitle,left:597,top:8,textAlign:'center',textStyle:{fontFamily:labelFont,fontWeight:'normal',fontSize:25,color:'#262626'}},
  grid:[{left:112,top:45,width:973,height:1237},{left:98,top:1359,width:1001,height:33}],
  xAxis:[
    {gridIndex:0,type:'value',min:lonMin,max:lonMax,z:2,position:'bottom',
     axisLine:{onZero:false,lineStyle:{color:'#111',width:1.5}},axisTick:{show:false,customValues:lonTicks},
     axisLabel:{customValues:lonTicks,formatter:tickFormatter(lonTicks,lonLabels),margin:9,fontFamily:labelFont,fontSize:20,color:'#262626'},
     splitLine:{show:true,lineStyle:{color:grid,width:1.5}}},
    {gridIndex:0,type:'value',min:lonMin,max:lonMax,z:2,position:'top',
     axisLine:{onZero:false,lineStyle:{color:'#111',width:1.5}},axisTick:{show:false},axisLabel:{show:false},splitLine:{show:false}},
    {gridIndex:1,type:'value',min:depthMin,max:0,z:5,position:'bottom',
     axisLine:{onZero:false,lineStyle:{color:'#000',width:1.5}},axisTick:{show:true,length:7,customValues:depthTicks,lineStyle:{color:'#222',width:1.2}},
     axisLabel:{customValues:depthTicks,formatter:tickFormatter(depthTicks,depthLabels),margin:15,fontFamily:labelFont,fontSize:20,color:'#262626'},
     splitLine:{show:false}}
  ],
  yAxis:[
    {gridIndex:0,type:'value',min:latMin,max:latMax,z:2,position:'left',
     axisLine:{onZero:false,show:true,lineStyle:{color:'#111',width:1.5}},axisTick:{show:false,customValues:latTicks},
     axisLabel:{customValues:latTicks,formatter:tickFormatter(latTicks,latLabels),margin:12,fontFamily:labelFont,fontSize:20,color:'#262626'},
     splitLine:{show:true,lineStyle:{color:grid,width:1.5}}},
    {gridIndex:0,type:'value',min:latMin,max:latMax,z:2,position:'right',
     axisLine:{onZero:false,show:true,lineStyle:{color:'#111',width:1.5}},axisTick:{show:false,customValues:latTicks},
     axisLabel:{customValues:latTicks,formatter:tickFormatter(latTicks,latLabels),margin:12,fontFamily:labelFont,fontSize:20,color:'#262626'},
     splitLine:{show:false}},
    {gridIndex:1,type:'value',min:0,max:1,show:false}
  ],
  series:[
    landSeries(),
    polygonSeries('dense',denseMass,'#7f0000',3),
    trackSeries('surface',surfaceTracks.map(t=>({coords:pairs(t),lineStyle:{color:'#7f0000'}})),3),
    trackSeries('depth',depthTracks.map(t=>({coords:pairs(t.slice(1)),lineStyle:{color:jetColor(t[0])}})),4),
    dots('sunk',rows(sunkRows),'#0000ff','#000080',5),
    dots('beached',rows(beachedRows),'#ff0000','#a00030',5),
    dots('start',startPoint,'#008000','#004000',6),
    {type:'custom',name:'colorbar',xAxisIndex:2,yAxisIndex:2,z:3,silent:true,data:[[depthMin,0,0,1]],
     renderItem:(p,api)=>{
       const a=api.coord([api.value(0),api.value(3)]),b=api.coord([api.value(2),api.value(1)]);
       return {type:'rect',shape:{x:a[0],y:a[1],width:b[0]-a[0],height:b[1]-a[1]},
         style:{stroke:'#000',lineWidth:1.5,fill:new echarts.graphic.LinearGradient(0,0,1,0,jetStops.map(s=>({offset:s[0],color:s[1]})))}};
     }}
  ],
  graphic:[
    {type:'rect',left:0,top:0,z:20,shape:{width:1169,height:8},style:{fill:'#4f81bd'}},
    {type:'rect',left:615,top:50,z:20,shape:{width:465,height:110},style:{fill:'#fff'}},
    {type:'text',left:620,top:55,z:21,style:{text:panelTitle,font:'bold 76px "Noto Sans CJK JP"',fill:'#000'}},
    {type:'text',left:520,top:1415,z:21,style:{text:colorbarTitle,font:'bold 43px "Noto Sans CJK JP"',fill:'#000'}}
  ]
};
echarts.init(document.getElementById('c'),null,{renderer:'canvas'}).setOption(option);
</script></body></html>
